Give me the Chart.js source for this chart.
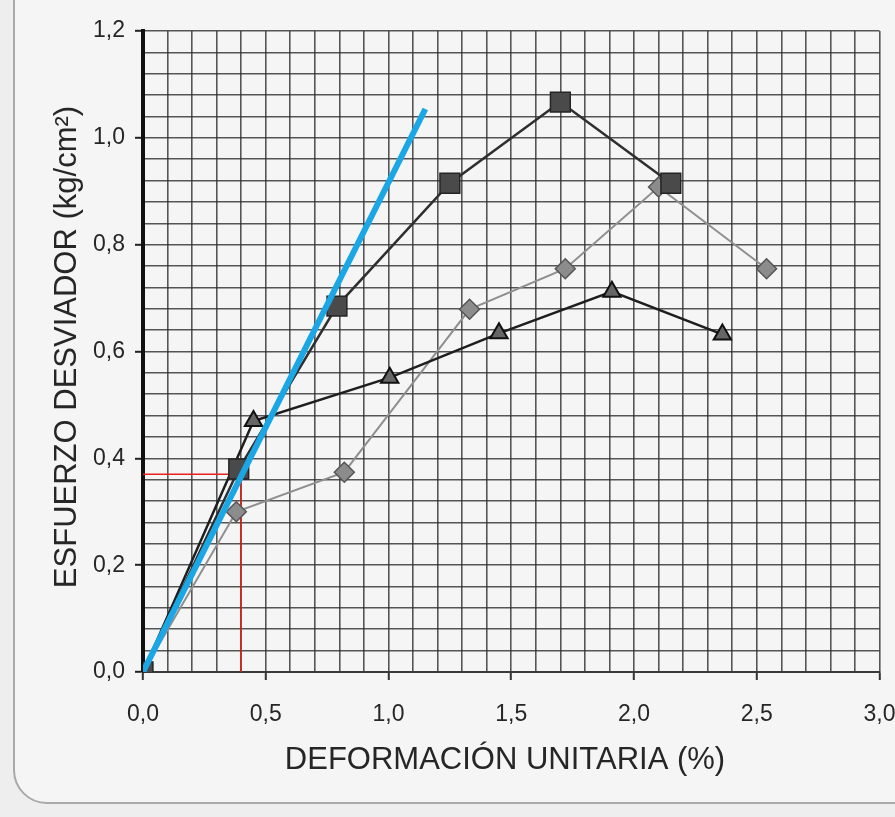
<!DOCTYPE html>
<html>
<head>
<meta charset="utf-8">
<script src="https://cdn.jsdelivr.net/npm/chart.js@4.4.1/dist/chart.umd.min.js"></script>
<style>
  html, body { margin: 0; padding: 0; background: #eeeeee; overflow: hidden; }
  #wrap { position: relative; width: 895px; height: 817px; }
  #frame {
    position: absolute; left: 13px; top: -60px; width: 1000px; height: 860px;
    background: #f5f5f5; border: 2px solid #a9a9a9; border-radius: 34px;
  }
  #chart { position: absolute; left: 0; top: 0; }
</style>
</head>
<body>
<div id="wrap">
  <div id="frame"></div>
  <canvas id="chart" width="895" height="817"></canvas>
</div>
<script>
(function () {
    'use strict';

    // strain (%) / deviator stress (kg/cm2)
    var strainSquare  = [0, 0.39, 0.79, 1.25, 1.70, 2.15];
    var stressSquare  = [0, 0.38, 0.685, 0.915, 1.067, 0.915];

    var strainTriangle = [0, 0.45, 1.005, 1.45, 1.91, 2.36];
    var stressTriangle = [0, 0.47, 0.551, 0.634, 0.712, 0.632];

    var strainDiamond = [0, 0.38, 0.82, 1.33, 1.72, 2.10, 2.54];
    var stressDiamond = [0, 0.30, 0.374, 0.679, 0.755, 0.908, 0.755];

    var tangentX = [0, 1.15];
    var tangentY = [0, 1.054];

    var guideX = [0, 0.40, 0.40];
    var guideY = [0.37, 0.37, 0];

    var xTicks = [0, 0.5, 1.0, 1.5, 2.0, 2.5, 3.0];
    var yTicks = [0, 0.2, 0.4, 0.6, 0.8, 1.0, 1.2];

    var X_TITLE = 'DEFORMACIÓN UNITARIA (%)';
    var Y_TITLE = 'ESFUERZO DESVIADOR (kg/cm²)';

    var FONT = '"Liberation Sans", Arial, sans-serif';

    function pts(xs, ys) {
        return xs.map(function (x, i) { return { x: x, y: ys[i] }; });
    }

    function isLabelled(list, v) {
        return list.some(function (t) { return Math.abs(t - v) < 1e-6; });
    }

    function fmt(v) {
        return v.toFixed(1).replace('.', ',');
    }

    var axisTitles = {
        id: 'axisTitles',
        afterDraw: function (chart) {
            var ctx = chart.ctx;
            ctx.save();
            ctx.fillStyle = '#262626';
            ctx.textAlign = 'center';
            ctx.textBaseline = 'middle';
            ctx.font = '31px ' + FONT;
            ctx.fillText(X_TITLE, 505, 760);
            ctx.translate(67, 347);
            ctx.rotate(-Math.PI / 2);
            ctx.font = '31px ' + FONT;
            ctx.fillText(Y_TITLE, 0, 0);
            ctx.restore();
        }
    };

    var gridColor = 'rgba(45,45,45,0.8)';

    new Chart(document.getElementById('chart'), {
        type: 'scatter',
        data: {
            datasets: [
                {
                    label: 'tangente',
                    data: pts(tangentX, tangentY),
                    showLine: true,
                    borderColor: '#1ba6e6',
                    borderWidth: 6,
                    pointRadius: 0,
                    order: 0
                },
                {
                    label: 'cuadrados',
                    data: pts(strainSquare, stressSquare),
                    showLine: true,
                    borderColor: '#2f2f2f',
                    borderWidth: 2.5,
                    pointStyle: 'rect',
                    pointRadius: 14,
                    pointBackgroundColor: '#4a4a4a',
                    pointBorderColor: '#252525',
                    pointBorderWidth: 1.5,
                    order: 1
                },
                {
                    label: 'triangulos',
                    data: pts(strainTriangle, stressTriangle),
                    showLine: true,
                    borderColor: '#1e1e1e',
                    borderWidth: 2.5,
                    pointStyle: 'triangle',
                    pointRadius: 10,
                    pointBackgroundColor: '#666666',
                    pointBorderColor: '#111111',
                    pointBorderWidth: 2,
                    order: 2
                },
                {
                    label: 'rombos',
                    data: pts(strainDiamond, stressDiamond),
                    showLine: true,
                    borderColor: '#8f8f8f',
                    borderWidth: 2,
                    pointStyle: 'rectRot',
                    pointRadius: 10,
                    pointBackgroundColor: '#8c8c8c',
                    pointBorderColor: '#555555',
                    pointBorderWidth: 1.5,
                    order: 3
                },
                {
                    label: 'guia',
                    data: pts(guideX, guideY),
                    showLine: true,
                    borderColor: '#e8231d',
                    borderWidth: 1.5,
                    pointRadius: 0,
                    order: 4
                }
            ]
        },
        options: {
            responsive: false,
            animation: false,
            events: [],
            layout: { padding: { top: 31, right: 0, left: 0, bottom: 0 } },
            plugins: {
                legend: { display: false },
                tooltip: { enabled: false }
            },
            scales: {
                x: {
                    type: 'linear',
                    min: 0, max: 3,
                    afterFit: function (s) { s.height = 145; s.paddingRight = 15; s.paddingLeft = 0; },
                    border: { display: true, color: '#3a3a3a', width: 2 },
                    grid: {
                        color: gridColor,
                        lineWidth: 1.6,
                        tickLength: 8,
                        tickWidth: 2,
                        tickColor: function (c) {
                            return c.tick && isLabelled(xTicks, c.tick.value) ? '#333' : 'rgba(0,0,0,0)';
                        }
                    },
                    ticks: {
                        stepSize: 0.1,
                        maxTicksLimit: 100,
                        autoSkip: false,
                        maxRotation: 0,
                        padding: 21,
                        color: '#262626',
                        font: { family: FONT, size: 23 },
                        callback: function (v) { return isLabelled(xTicks, v) ? fmt(v) : ''; }
                    }
                },
                y: {
                    type: 'linear',
                    min: 0, max: 1.2,
                    afterFit: function (s) { s.width = 143; },
                    border: { display: true, color: '#111', width: 4 },
                    grid: {
                        color: gridColor,
                        lineWidth: 1.6,
                        tickLength: 8,
                        tickWidth: 2,
                        tickColor: function (c) {
                            return c.tick && isLabelled(yTicks, c.tick.value) ? '#222' : 'rgba(0,0,0,0)';
                        }
                    },
                    ticks: {
                        stepSize: 0.04,
                        maxTicksLimit: 100,
                        autoSkip: false,
                        padding: 10,
                        color: '#262626',
                        font: { family: FONT, size: 23 },
                        callback: function (v) { return isLabelled(yTicks, v) ? fmt(v) : ''; }
                    }
                }
            }
        },
        plugins: [axisTitles]
    });
})();
</script>
</body>
</html>
